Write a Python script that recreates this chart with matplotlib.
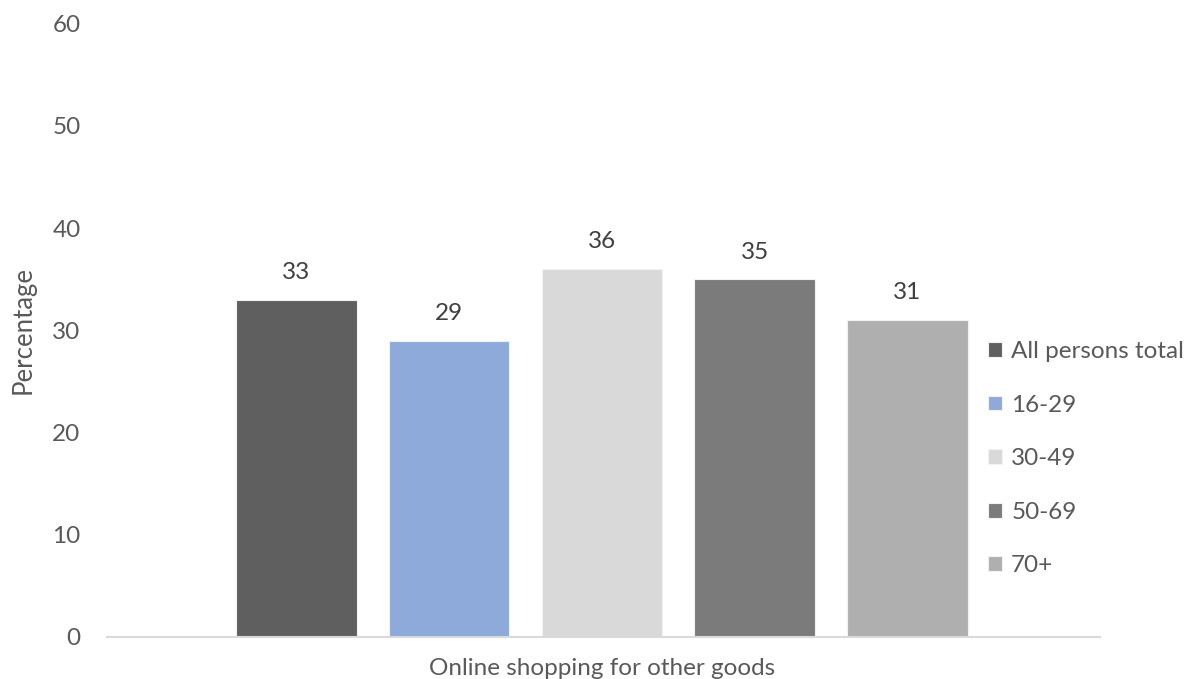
import matplotlib.pyplot as plt

# Share of people doing online shopping for other goods, by age group
groups = ['All persons total', '16-29', '30-49', '50-69', '70+']
values = [33, 29, 36, 35, 31]
colors = ['#5f5f5f', '#8eaadb', '#d9d9d9', '#7b7b7b', '#afafaf']
category = 'Online shopping for other goods'

plt.rcParams['font.family'] = ['Lato', 'DejaVu Sans']
text_color = '#595959'
fs = 17.5

fig = plt.figure(figsize=(12.02, 6.79), dpi=100)
ax = fig.add_axes([0.089, 0.062, 0.826, 0.903])

width = 0.79
offsets = [i - (len(groups) - 1) / 2 for i in range(len(groups))]
for off, val, col, name in zip(offsets, values, colors, groups):
    ax.bar(off, val, width=width, color=col, edgecolor='#f2f2f2',
           linewidth=0.8, label=name)
    ax.annotate(str(val), (off, val), xytext=(0, 12), textcoords='offset points',
                ha='center', va='bottom', fontsize=fs, color='#404040')

ax.set_xlim(-3.24, 3.26)
ax.set_ylim(0, 60)
ax.set_yticks(range(0, 61, 10))
ax.set_xticks([0])
ax.set_xticklabels([category])
ax.tick_params(axis='y', length=0, pad=19, labelsize=fs, labelcolor=text_color)
ax.tick_params(axis='x', length=0, pad=15, labelsize=fs, labelcolor=text_color)
for s in ['top', 'right', 'left']:
    ax.spines[s].set_visible(False)
ax.spines['bottom'].set_color('#d9d9d9')
ax.spines['bottom'].set_linewidth(1.5)

ax.set_ylabel('Percentage', fontsize=18.5, color=text_color, labelpad=12)

ax.legend(loc='upper left', bbox_to_anchor=(0.814, 0.512), bbox_transform=fig.transFigure,
          frameon=False, fontsize=fs, labelcolor=text_color, handlelength=0.55,
          handleheight=0.55, handletextpad=0.4, labelspacing=1.34, borderaxespad=0)

fig.savefig('out.png', dpi=100)
